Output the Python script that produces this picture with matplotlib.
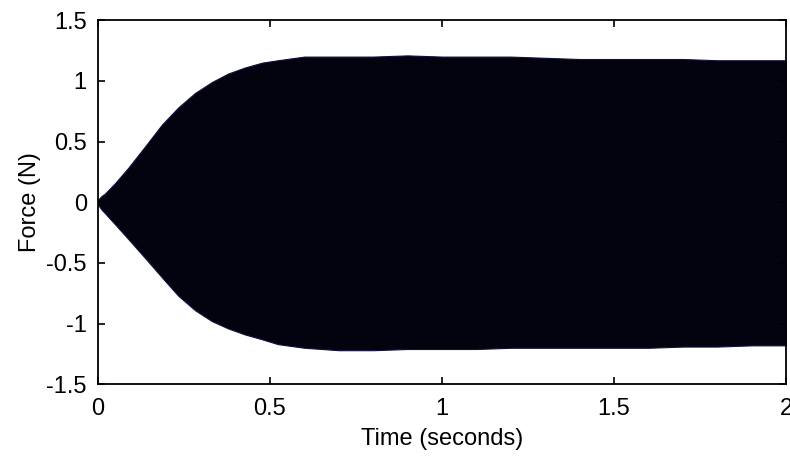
import matplotlib
matplotlib.use("Agg")
import matplotlib.pyplot as plt

# envelope of the oscillating force signal
env_t = [0.0, 0.01, 0.02, 0.049, 0.087, 0.137, 0.186, 0.233, 0.282, 0.331,
         0.378, 0.427, 0.477, 0.523, 0.6, 0.7, 0.8, 0.9, 1.0, 1.1, 1.2,
         1.3, 1.4, 1.5, 1.6, 1.7, 1.8, 1.9, 2.0]
env_upper = [0.02, 0.05, 0.07, 0.155, 0.28, 0.46, 0.64, 0.78, 0.90, 0.99,
             1.06, 1.11, 1.15, 1.17, 1.20, 1.20, 1.20, 1.21, 1.20, 1.20, 1.20,
             1.19, 1.18, 1.18, 1.18, 1.18, 1.17, 1.17, 1.17]
env_lower = [-0.02, -0.06, -0.09, -0.18, -0.30, -0.46, -0.62, -0.77, -0.89, -0.98,
             -1.04, -1.09, -1.13, -1.17, -1.20, -1.22, -1.22, -1.21, -1.21, -1.21, -1.20,
             -1.20, -1.20, -1.20, -1.20, -1.19, -1.19, -1.18, -1.18]

x_ticks = [0, 0.5, 1, 1.5, 2]
x_labels = ["0", "0.5", "1", "1.5", "2"]
y_ticks = [-1.5, -1, -0.5, 0, 0.5, 1, 1.5]
y_labels = ["-1.5", "-1", "-0.5", "0", "0.5", "1", "1.5"]

plt.rcParams['font.family'] = ['Liberation Sans', 'DejaVu Sans']

fig = plt.figure(figsize=(7.9, 4.59), dpi=100)
ax = fig.add_axes([0.124, 0.163, 0.871, 0.793])

ax.fill_between(env_t, env_lower, env_upper, color="#03030f", linewidth=0.8,
                edgecolor="#101040")

ax.set_xlim(0, 2)
ax.set_ylim(-1.5, 1.5)
ax.set_xticks(x_ticks)
ax.set_xticklabels(x_labels)
ax.set_yticks(y_ticks)
ax.set_yticklabels(y_labels)
ax.tick_params(direction="in", top=True, right=True, length=5, width=1.2,
               labelsize=17, pad=8)
ax.tick_params(axis="x", pad=10)
for s in ax.spines.values():
    s.set_linewidth(1.3)

ax.set_xlabel("Time (seconds)", fontsize=17, labelpad=6)
ax.set_ylabel("Force (N)", fontsize=17, labelpad=4)

fig.savefig("out.png", dpi=100)
